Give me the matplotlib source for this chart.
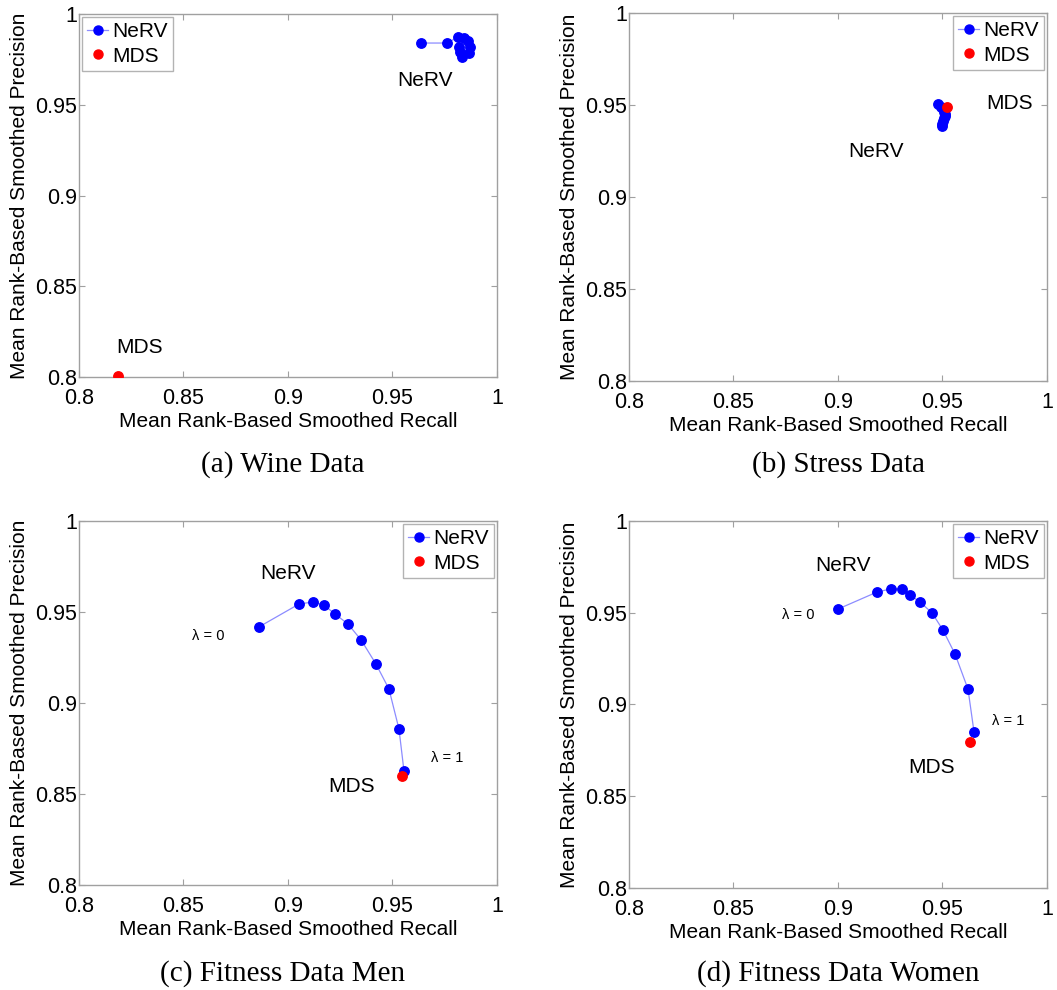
import matplotlib
matplotlib.use("Agg")
import matplotlib.pyplot as plt

plt.rcParams["font.family"] = ["Liberation Sans", "DejaVu Sans"]

W, H = 1057, 990

# ── data ──────────────────────────────────────────────────
wine_nerv_x = [0.9636, 0.9761, 0.9813, 0.9842, 0.9861, 0.9871, 0.9866, 0.9833, 0.9823, 0.9818]
wine_nerv_y = [0.9840, 0.9840, 0.9873, 0.9868, 0.9850, 0.9818, 0.9785, 0.9763, 0.9790, 0.9818]
wine_mds = (0.8187, 0.8005)

stress_nerv_x = [0.9478, 0.9492, 0.9505, 0.9508, 0.9510, 0.9510, 0.9508, 0.9504, 0.9500, 0.9496]
stress_nerv_y = [0.9505, 0.9490, 0.9478, 0.9462, 0.9450, 0.9440, 0.9428, 0.9412, 0.9398, 0.9386]
stress_mds = (0.9522, 0.9489)

men_nerv_x = [0.8861, 0.9053, 0.9120, 0.9172, 0.9225, 0.9287, 0.9350, 0.9421, 0.9483, 0.9531, 0.9555]
men_nerv_y = [0.9418, 0.9544, 0.9555, 0.9538, 0.9489, 0.9434, 0.9346, 0.9214, 0.9077, 0.8857, 0.8626]
men_mds = (0.9545, 0.8599)

women_nerv_x = [0.9000, 0.9187, 0.9254, 0.9306, 0.9344, 0.9392, 0.9450, 0.9502, 0.9560, 0.9622, 0.9651]
women_nerv_y = [0.9520, 0.9613, 0.9630, 0.9630, 0.9597, 0.9559, 0.9499, 0.9406, 0.9275, 0.9084, 0.8849]
women_mds = (0.9632, 0.8796)

ticks = [0.8, 0.85, 0.9, 0.95, 1.0]
tick_labels = ["0.8", "0.85", "0.9", "0.95", "1"]

# panel box in pixels: left, right, top, bottom
panels = [
    dict(box=(79, 497, 14, 377), nx=wine_nerv_x, ny=wine_nerv_y, mds=wine_mds,
         leg="upper left", caption="(a) Wine Data", cap_xy=(283, 465),
         notes=[("NeRV", 0.9656, 0.9636, 15), ("MDS", 0.829, 0.816, 15)]),
    dict(box=(629, 1047, 13, 381), nx=stress_nerv_x, ny=stress_nerv_y, mds=stress_mds,
         leg="upper right", caption="(b) Stress Data", cap_xy=(838, 465),
         notes=[("MDS", 0.9823, 0.951, 15), ("NeRV", 0.918, 0.9245, 15)]),
    dict(box=(79, 497, 521, 885), nx=men_nerv_x, ny=men_nerv_y, mds=men_mds,
         leg="upper right", caption="(c) Fitness Data Men", cap_xy=(283, 974),
         notes=[("NeRV", 0.90, 0.971, 15), ("λ = 0", 0.8620, 0.9368, 10.5),
                ("λ = 1", 0.976, 0.870, 10.5), ("MDS", 0.9306, 0.854, 15)]),
    dict(box=(629, 1047, 521, 888), nx=women_nerv_x, ny=women_nerv_y, mds=women_mds,
         leg="upper right", caption="(d) Fitness Data Women", cap_xy=(838, 974),
         notes=[("NeRV", 0.9024, 0.9755, 15), ("λ = 0", 0.8809, 0.9488, 10.5),
                ("λ = 1", 0.9813, 0.891, 10.5), ("MDS", 0.9450, 0.8654, 15)]),
]

fig = plt.figure(figsize=(W / 100, H / 100), dpi=100)
edge = "#a0a0a0"

for p in panels:
    l, r, t, b = p["box"]
    ax = fig.add_axes([l / W, 1 - b / H, (r - l) / W, (b - t) / H])
    ax.plot(p["nx"], p["ny"], color="#8c8cff", linewidth=0.9, zorder=2)
    ax.plot(p["nx"], p["ny"], linestyle="none", marker="o", markersize=6.8,
            color="blue", zorder=3)
    ax.plot([p["mds"][0]], [p["mds"][1]], linestyle="none", marker="o",
            markersize=6.8, color="red", zorder=4)

    # legend proxies
    h1, = ax.plot([], [], color="#8c8cff", linewidth=0.9, marker="o",
                  markersize=6.5, markerfacecolor="blue", markeredgecolor="blue")
    h2, = ax.plot([], [], linestyle="none", marker="o", markersize=6.5, color="red")
    leg = ax.legend([h1, h2], ["NeRV", "MDS"], loc=p["leg"], fontsize=15,
                    frameon=True, fancybox=False, borderaxespad=0.15,
                    handlelength=1.0, handletextpad=0.2, borderpad=0.25,
                    labelspacing=0.25)
    leg.get_frame().set_edgecolor(edge)
    leg.get_frame().set_linewidth(1.0)

    for txt, x, y, fs in p["notes"]:
        ax.text(x, y, txt, fontsize=fs, ha="center", va="center")

    ax.set_xlim(0.8, 1.0)
    ax.set_ylim(0.8, 1.0)
    ax.set_xticks(ticks)
    ax.set_xticklabels(tick_labels)
    ax.set_yticks(ticks)
    ax.set_yticklabels(tick_labels)
    ax.tick_params(direction="in", top=True, right=True, length=4,
                   color=edge, labelsize=15.5)
    ax.tick_params(axis="x", pad=8)
    ax.tick_params(axis="y", pad=1.5)
    for s in ax.spines.values():
        s.set_color(edge)
        s.set_linewidth(1.0)
    ax.set_xlabel("Mean Rank-Based Smoothed Recall", fontsize=15, labelpad=2)
    ax.set_ylabel("Mean Rank-Based Smoothed Precision", fontsize=15, labelpad=4)

    fig.text(p["cap_xy"][0] / W, 1 - p["cap_xy"][1] / H, p["caption"],
             fontsize=21, ha="center", va="center",
             family=["Liberation Serif", "DejaVu Serif"])

fig.savefig("out.png", dpi=100)
